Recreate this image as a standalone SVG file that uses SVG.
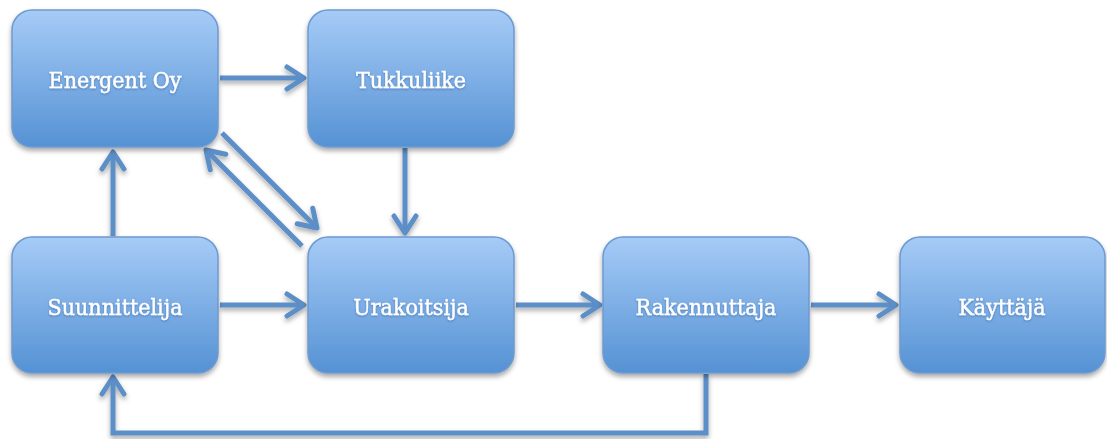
<svg xmlns="http://www.w3.org/2000/svg" width="1107" height="439" viewBox="0 0 1107 439">
<style>
.box{fill:url(#g);stroke:#6d9ad0;stroke-width:1.5}
.lbl{font-family:"DejaVu Serif Condensed","DejaVu Serif","Liberation Serif",serif;font-stretch:condensed;font-size:23px;fill:#fff;stroke:#fff;stroke-width:0.4;text-anchor:middle;filter:url(#ts)}
.c{fill:none;stroke:#5b8ec8;stroke-width:5}
.a{marker-end:url(#ah)}
</style>
<defs>
<linearGradient id="g" x1="0" y1="0" x2="0" y2="1">
<stop offset="0" stop-color="#a6cbf7"/>
<stop offset="1" stop-color="#5592d4"/>
</linearGradient>
<filter id="sh" x="-10%" y="-10%" width="120%" height="130%">
<feDropShadow dx="0" dy="3" stdDeviation="2.5" flood-color="#000" flood-opacity="0.35"/>
</filter>
<filter id="ts" x="-10%" y="-30%" width="120%" height="160%">
<feDropShadow dx="0" dy="1" stdDeviation="0.8" flood-color="#1f4f8a" flood-opacity="0.5"/>
</filter>
<marker id="ah" markerUnits="userSpaceOnUse" viewBox="-22 -14 26 28" refX="0" refY="0" markerWidth="26" markerHeight="28" orient="auto">
<path d="M-17,-11 L0,0 L-17,11" fill="none" stroke="#5b8ec8" stroke-width="5" stroke-linecap="round" stroke-linejoin="round"/>
</marker>
</defs>
<g id="connectors" filter="url(#sh)">
<path class="c a" d="M220,78 L304,78"/>
<path class="c a" d="M405,148 L405,233"/>
<path class="c a" d="M113,236 L113,152"/>
<path class="c a" d="M220,305 L304,305"/>
<path class="c a" d="M516,305 L600,305"/>
<path class="c a" d="M811,305 L896,305"/>
<path class="c a" d="M222,133 L317,228"/>
<path class="c a" d="M302,246 L206,150"/>
<path class="c a" d="M706,374 L706,433 L113,433 L113,377"/>
</g>
<g id="energent" filter="url(#sh)"><rect class="box" x="12" y="10" width="206" height="137" rx="20"/><text class="lbl" x="115" y="88">Energent Oy</text></g>
<g id="tukkuliike" filter="url(#sh)"><rect class="box" x="308" y="10" width="206" height="137" rx="20"/><text class="lbl" x="411" y="88">Tukkuliike</text></g>
<g id="suunnittelija" filter="url(#sh)"><rect class="box" x="12" y="237" width="206" height="136" rx="20"/><text class="lbl" x="115" y="315">Suunnittelija</text></g>
<g id="urakoitsija" filter="url(#sh)"><rect class="box" x="308" y="237" width="206" height="136" rx="20"/><text class="lbl" x="411" y="315">Urakoitsija</text></g>
<g id="rakennuttaja" filter="url(#sh)"><rect class="box" x="603" y="237" width="206" height="136" rx="20"/><text class="lbl" x="706" y="315">Rakennuttaja</text></g>
<g id="kayttaja" filter="url(#sh)"><rect class="box" x="900" y="237" width="205" height="136" rx="20"/><text class="lbl" x="1002" y="315">Käyttäjä</text></g>
</svg>
